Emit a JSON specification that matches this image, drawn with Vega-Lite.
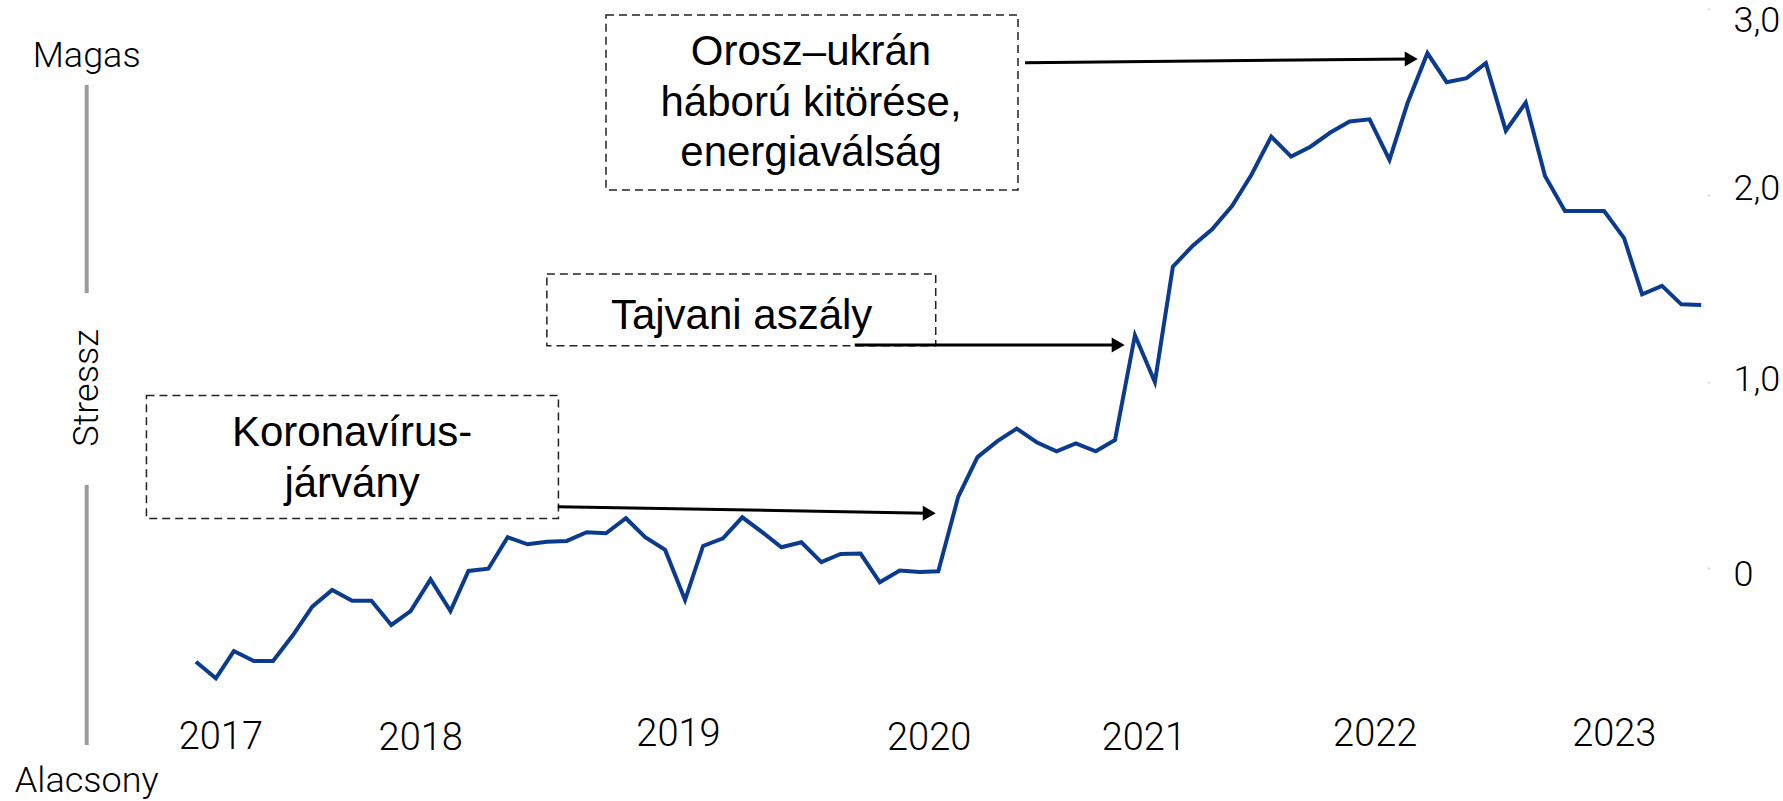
{
  "$schema": "https://vega.github.io/schema/vega-lite/v6.json",
  "width": 1531,
  "height": 689.4,
  "autosize": {"type": "none"},
  "padding": {"left": 176, "top": 9, "right": 76, "bottom": 103},
  "background": "white",
  "config": {"view": {"stroke": null}, "font": "Roboto"},
  "resolve": {"axis": {"x": "independent", "y": "independent"}},
  "datasets": {
    "series": [
      {"date": "2017-01-01", "value": -0.503}, {"date": "2017-02-01", "value": -0.592}, {"date": "2017-03-01", "value": -0.446},
      {"date": "2017-04-01", "value": -0.499}, {"date": "2017-05-01", "value": -0.499}, {"date": "2017-06-01", "value": -0.360},
      {"date": "2017-07-01", "value": -0.208}, {"date": "2017-08-01", "value": -0.118}, {"date": "2017-09-01", "value": -0.176},
      {"date": "2017-10-01", "value": -0.176}, {"date": "2017-11-01", "value": -0.306}, {"date": "2017-12-01", "value": -0.231},
      {"date": "2018-01-01", "value": -0.061}, {"date": "2018-02-01", "value": -0.231}, {"date": "2018-03-01", "value": -0.016},
      {"date": "2018-04-01", "value": -0.004}, {"date": "2018-05-01", "value": 0.165}, {"date": "2018-06-01", "value": 0.127},
      {"date": "2018-07-01", "value": 0.141}, {"date": "2018-08-01", "value": 0.145}, {"date": "2018-09-01", "value": 0.192},
      {"date": "2018-10-01", "value": 0.186}, {"date": "2018-11-01", "value": 0.267}, {"date": "2018-12-01", "value": 0.165},
      {"date": "2019-01-01", "value": 0.097}, {"date": "2019-02-01", "value": -0.172}, {"date": "2019-03-01", "value": 0.118},
      {"date": "2019-04-01", "value": 0.159}, {"date": "2019-05-01", "value": 0.272}, {"date": "2019-06-01", "value": 0.192},
      {"date": "2019-07-01", "value": 0.111}, {"date": "2019-08-01", "value": 0.138}, {"date": "2019-09-01", "value": 0.031},
      {"date": "2019-10-01", "value": 0.075}, {"date": "2019-11-01", "value": 0.077}, {"date": "2019-12-01", "value": -0.077},
      {"date": "2020-01-01", "value": -0.014}, {"date": "2020-02-01", "value": -0.021}, {"date": "2020-03-01", "value": -0.018},
      {"date": "2020-04-01", "value": 0.382}, {"date": "2020-05-01", "value": 0.595}, {"date": "2020-06-01", "value": 0.681},
      {"date": "2020-07-01", "value": 0.748}, {"date": "2020-08-01", "value": 0.675}, {"date": "2020-09-01", "value": 0.626},
      {"date": "2020-10-01", "value": 0.668}, {"date": "2020-11-01", "value": 0.626}, {"date": "2020-12-01", "value": 0.687},
      {"date": "2021-01-01", "value": 1.249}, {"date": "2021-02-01", "value": 0.998}, {"date": "2021-03-01", "value": 1.617},
      {"date": "2021-04-01", "value": 1.730}, {"date": "2021-05-01", "value": 1.818}, {"date": "2021-06-01", "value": 1.943},
      {"date": "2021-07-01", "value": 2.109}, {"date": "2021-08-01", "value": 2.315}, {"date": "2021-09-01", "value": 2.208},
      {"date": "2021-10-01", "value": 2.261}, {"date": "2021-11-01", "value": 2.337}, {"date": "2021-12-01", "value": 2.396},
      {"date": "2022-01-01", "value": 2.408}, {"date": "2022-02-01", "value": 2.190}, {"date": "2022-03-01", "value": 2.494},
      {"date": "2022-04-01", "value": 2.763}, {"date": "2022-05-01", "value": 2.607}, {"date": "2022-06-01", "value": 2.629},
      {"date": "2022-07-01", "value": 2.709}, {"date": "2022-08-01", "value": 2.347}, {"date": "2022-09-01", "value": 2.498},
      {"date": "2022-10-01", "value": 2.104}, {"date": "2022-11-01", "value": 1.916}, {"date": "2022-12-01", "value": 1.916},
      {"date": "2023-01-01", "value": 1.916}, {"date": "2023-02-01", "value": 1.770}, {"date": "2023-03-01", "value": 1.469},
      {"date": "2023-04-01", "value": 1.514}, {"date": "2023-05-01", "value": 1.415}, {"date": "2023-06-01", "value": 1.412}
    ],
    "notes": [
      {"text": "Koronavírus-\njárvány", "x0": "2016-10-16", "x1": "2018-07-19", "y0": 0.266, "y1": 0.925, "tx": "2017-09-01", "ty": 0.652, "a0": "2018-07-18", "a1": "2020-02-26", "av0": 0.329, "av1": 0.294},
      {"text": "Tajvani aszály", "x0": "2018-07-01", "x1": "2020-02-26", "y0": 1.192, "y1": 1.578, "tx": "2019-04-30", "ty": 1.283, "a0": "2019-10-23", "a1": "2020-12-16", "av0": 1.197, "av1": 1.197},
      {"text": "Orosz–ukrán\nháború kitörése,\nenergiaválság", "x0": "2018-10-01", "x1": "2020-07-03", "y0": 2.029, "y1": 2.968, "tx": "2019-08-16", "ty": 2.699, "a0": "2020-07-14", "a1": "2022-03-17", "av0": 2.711, "av1": 2.732}
    ],
    "scale_labels": [
      {"label": "Magas", "date": "2016-07-15", "value": 2.748},
      {"label": "Stressz", "date": "2016-07-15", "value": 0.966},
      {"label": "Alacsony", "date": "2016-07-15", "value": -1.145}
    ],
    "scale_bars": [
      {"date": "2016-07-15", "from": 2.592, "to": 1.476},
      {"date": "2016-07-15", "from": 0.445, "to": -0.95}
    ]
  },
  "layer": [
    {
      "data": {"name": "series"},
      "mark": {"type": "line", "color": "#0b3b8f", "strokeWidth": 4},
      "encoding": {
        "x": {
          "field": "date", "type": "temporal",
          "scale": {"type": "utc", "domain": [{"year": 2016, "month": 12, "date": 1, "utc": true}, {"year": 2023, "month": 6, "date": 10, "utc": true}]},
          "axis": {
            "orient": "bottom", "title": null, "domain": false, "ticks": false, "tickSize": 0, "grid": false,
            "values": [
              {"year": 2017, "month": 2, "date": 8, "utc": true},
              {"year": 2017, "month": 12, "date": 16, "utc": true},
              {"year": 2019, "month": 1, "date": 21, "utc": true},
              {"year": 2020, "month": 2, "date": 15, "utc": true},
              {"year": 2021, "month": 1, "date": 14, "utc": true},
              {"year": 2022, "month": 1, "date": 9, "utc": true},
              {"year": 2023, "month": 1, "date": 16, "utc": true}
            ],
            "labelExpr": "utcyear(+datum.value + 2592000000)",
            "labelFont": "Roboto", "labelFontWeight": 300, "labelFontSize": 38, "labelColor": "#000000",
            "labelPadding": {"condition": [{"test": "indexof([2019, 2022, 2023], utcyear(+datum.value + 2592000000)) >= 0", "value": 17}, {"test": "indexof([2018, 2020, 2021], utcyear(+datum.value + 2592000000)) >= 0", "value": 21.5}], "value": 20},
            "labelBaseline": "top", "labelFlush": false, "labelOverlap": false, "labelBound": false
          }
        },
        "y": {
          "field": "value", "type": "quantitative",
          "scale": {"domain": [-0.7, 3.0], "nice": false, "zero": false},
          "axis": {
            "orient": "right", "title": null, "domain": false, "grid": false,
            "values": [0, 1, 2, 3],
            "labelExpr": "datum.value == 0 ? '0' : replace(format(datum.value, '.1f'), '.', ',')",
            "ticks": true, "tickSize": 3, "tickWidth": 2, "tickColor": "#dddddd",
            "labelFont": "Roboto", "labelFontWeight": 300, "labelFontSize": 36, "labelColor": "#000000",
            "labelPadding": 23, "labelFlush": false, "labelOverlap": false, "labelBound": false,
            "labelOffset": {"condition": [{"test": "datum.value == 3", "value": 12}, {"test": "datum.value == 2", "value": -6.5}, {"test": "datum.value == 1", "value": -2}], "value": 7}
          }
        }
      }
    },
    {
      "data": {"name": "notes"},
      "mark": {"type": "rect", "fill": "transparent", "stroke": "#222222", "strokeWidth": 1.5, "strokeDash": [8, 5]},
      "encoding": {
        "x": {"field": "x0", "type": "temporal", "scale": {"type": "utc", "domain": [{"year": 2016, "month": 12, "date": 1, "utc": true}, {"year": 2023, "month": 6, "date": 10, "utc": true}]}, "axis": null},
        "x2": {"field": "x1"},
        "y": {"field": "y0", "type": "quantitative", "scale": {"domain": [-0.7, 3.0], "nice": false, "zero": false}, "axis": null},
        "y2": {"field": "y1"}
      }
    },
    {
      "data": {"name": "notes"},
      "mark": {"type": "text", "font": "Liberation Sans", "fontSize": 42, "lineHeight": 50.5, "lineBreak": "\n", "align": "center", "baseline": "alphabetic", "color": "#000000"},
      "encoding": {
        "x": {"field": "tx", "type": "temporal", "scale": {"type": "utc", "domain": [{"year": 2016, "month": 12, "date": 1, "utc": true}, {"year": 2023, "month": 6, "date": 10, "utc": true}]}, "axis": null},
        "y": {"field": "ty", "type": "quantitative", "scale": {"domain": [-0.7, 3.0], "nice": false, "zero": false}, "axis": null},
        "text": {"field": "text"}
      }
    },
    {
      "data": {"name": "notes"},
      "mark": {"type": "rule", "color": "#000000", "strokeWidth": 3, "x2Offset": -8},
      "encoding": {
        "x": {"field": "a0", "type": "temporal", "scale": {"type": "utc", "domain": [{"year": 2016, "month": 12, "date": 1, "utc": true}, {"year": 2023, "month": 6, "date": 10, "utc": true}]}, "axis": null},
        "x2": {"field": "a1"},
        "y": {"field": "av0", "type": "quantitative", "scale": {"domain": [-0.7, 3.0], "nice": false, "zero": false}, "axis": null},
        "y2": {"field": "av1"}
      }
    },
    {
      "data": {"name": "notes"},
      "mark": {"type": "point", "shape": "triangle-right", "size": 225, "filled": true, "fill": "#000000", "strokeWidth": 0, "opacity": 1, "xOffset": -6.5},
      "encoding": {
        "x": {"field": "a1", "type": "temporal", "scale": {"type": "utc", "domain": [{"year": 2016, "month": 12, "date": 1, "utc": true}, {"year": 2023, "month": 6, "date": 10, "utc": true}]}, "axis": null},
        "y": {"field": "av1", "type": "quantitative", "scale": {"domain": [-0.7, 3.0], "nice": false, "zero": false}, "axis": null}
      }
    },
    {
      "data": {"name": "scale_bars"},
      "mark": {"type": "rule", "color": "#9b9b9b", "strokeWidth": 4},
      "encoding": {
        "x": {"field": "date", "type": "temporal", "scale": {"type": "utc", "domain": [{"year": 2016, "month": 12, "date": 1, "utc": true}, {"year": 2023, "month": 6, "date": 10, "utc": true}]}, "axis": null},
        "y": {"field": "from", "type": "quantitative", "scale": {"domain": [-0.7, 3.0], "nice": false, "zero": false}, "axis": null},
        "y2": {"field": "to"}
      }
    },
    {
      "data": {"name": "scale_labels"},
      "transform": [{"filter": "datum.label != 'Stressz'"}],
      "mark": {"type": "text", "font": "Roboto", "fontWeight": 300, "fontSize": 36, "align": "center", "baseline": "middle", "color": "#000000"},
      "encoding": {
        "x": {"field": "date", "type": "temporal", "scale": {"type": "utc", "domain": [{"year": 2016, "month": 12, "date": 1, "utc": true}, {"year": 2023, "month": 6, "date": 10, "utc": true}]}, "axis": null},
        "y": {"field": "value", "type": "quantitative", "scale": {"domain": [-0.7, 3.0], "nice": false, "zero": false}, "axis": null},
        "text": {"field": "label"}
      }
    },
    {
      "data": {"name": "scale_labels"},
      "transform": [{"filter": "datum.label == 'Stressz'"}],
      "mark": {"type": "text", "font": "Roboto", "fontWeight": 300, "fontSize": 36, "align": "center", "baseline": "middle", "angle": 270, "color": "#000000"},
      "encoding": {
        "x": {"field": "date", "type": "temporal", "scale": {"type": "utc", "domain": [{"year": 2016, "month": 12, "date": 1, "utc": true}, {"year": 2023, "month": 6, "date": 10, "utc": true}]}, "axis": null},
        "y": {"field": "value", "type": "quantitative", "scale": {"domain": [-0.7, 3.0], "nice": false, "zero": false}, "axis": null},
        "text": {"field": "label"}
      }
    }
  ]
}
